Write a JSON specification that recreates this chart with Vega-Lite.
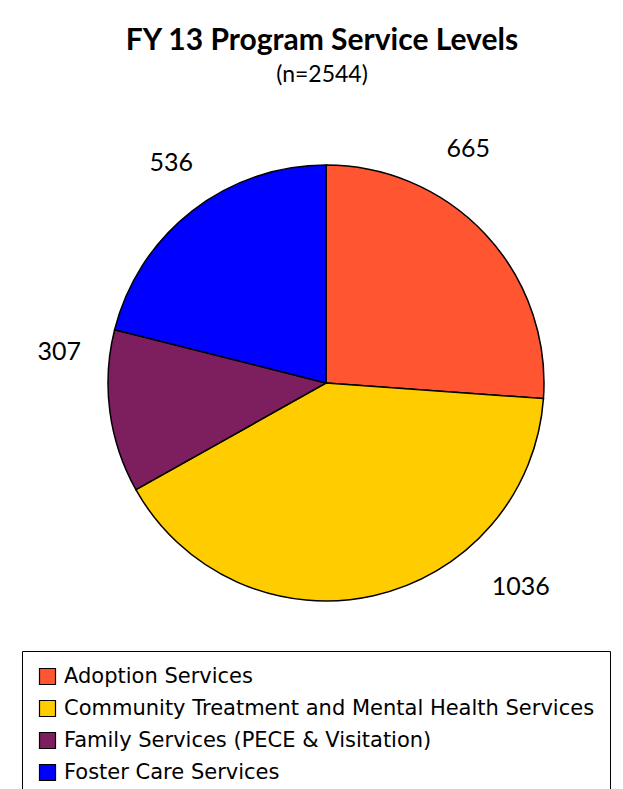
{
  "$schema": "https://vega.github.io/schema/vega-lite/v6.json",
  "width": 652,
  "height": 576,
  "autosize": "none",
  "padding": {"left": 0, "top": 95, "right": 0, "bottom": 118},
  "background": "white",
  "title": {
    "text": "FY 13 Program Service Levels",
    "subtitle": "(n=2544)",
    "font": "Lato",
    "fontSize": 30,
    "fontWeight": "bold",
    "color": "black",
    "subtitleFont": "Lato",
    "subtitleFontSize": 23,
    "subtitleColor": "black",
    "subtitlePadding": 8,
    "anchor": "middle",
    "dx": -4,
    "offset": 8
  },
  "data": {
    "values": [
      {"category": "Adoption Services", "value": 665, "idx": 1},
      {"category": "Community Treatment and Mental Health Services", "value": 1036, "idx": 2},
      {"category": "Family Services (PECE & Visitation)", "value": 307, "idx": 3},
      {"category": "Foster Care Services", "value": 536, "idx": 4}
    ]
  },
  "layer": [
    {
      "mark": {"type": "arc", "outerRadius": 218, "stroke": "black", "strokeWidth": 1.5},
      "encoding": {
        "theta": {"field": "value", "type": "quantitative", "stack": true},
        "order": {"field": "idx", "type": "quantitative"},
        "color": {
          "field": "category",
          "type": "nominal",
          "scale": {
            "domain": ["Adoption Services", "Community Treatment and Mental Health Services", "Family Services (PECE & Visitation)", "Foster Care Services"],
            "range": ["#FF5530", "#FFCC00", "#7D1F5E", "#0000FF"]
          },
          "legend": {
            "orient": "none",
            "legendX": 22,
            "legendY": 556,
            "direction": "vertical",
            "title": null,
            "symbolType": "square",
            "symbolSize": 256,
            "symbolStrokeColor": "black",
            "symbolStrokeWidth": 1.2,
            "symbolOffset": 0,
            "labelFont": "DejaVu Sans",
            "labelFontSize": 21,
            "labelColor": "black",
            "labelLimit": 800,
            "labelOffset": 6,
            "rowPadding": 10,
            "strokeColor": "black",
            "padding": 15
          }
        }
      }
    },
    {
      "mark": {"type": "text", "radius": 260, "font": "Lato", "fontSize": 25, "color": "black", "dx": -48, "dy": -57},
      "encoding": {
        "theta": {"field": "value", "type": "quantitative", "stack": true},
        "order": {"field": "idx", "type": "quantitative"},
        "detail": {"field": "category", "type": "nominal"},
        "text": {"condition": {"test": "datum.idx === 1", "field": "value", "type": "quantitative"}, "value": ""}
      }
    },
    {
      "mark": {"type": "text", "radius": 260, "font": "Lato", "fontSize": 25, "color": "black", "dx": 138, "dy": -50},
      "encoding": {
        "theta": {"field": "value", "type": "quantitative", "stack": true},
        "order": {"field": "idx", "type": "quantitative"},
        "detail": {"field": "category", "type": "nominal"},
        "text": {"condition": {"test": "datum.idx === 2", "field": "value", "type": "quantitative"}, "value": ""}
      }
    },
    {
      "mark": {"type": "text", "radius": 260, "font": "Lato", "fontSize": 25, "color": "black", "dx": -9, "dy": -65},
      "encoding": {
        "theta": {"field": "value", "type": "quantitative", "stack": true},
        "order": {"field": "idx", "type": "quantitative"},
        "detail": {"field": "category", "type": "nominal"},
        "text": {"condition": {"test": "datum.idx === 3", "field": "value", "type": "quantitative"}, "value": ""}
      }
    },
    {
      "mark": {"type": "text", "radius": 260, "font": "Lato", "fontSize": 25, "color": "black", "dx": 5, "dy": -15},
      "encoding": {
        "theta": {"field": "value", "type": "quantitative", "stack": true},
        "order": {"field": "idx", "type": "quantitative"},
        "detail": {"field": "category", "type": "nominal"},
        "text": {"condition": {"test": "datum.idx === 4", "field": "value", "type": "quantitative"}, "value": ""}
      }
    }
  ],
  "config": {"view": {"stroke": null}}
}
